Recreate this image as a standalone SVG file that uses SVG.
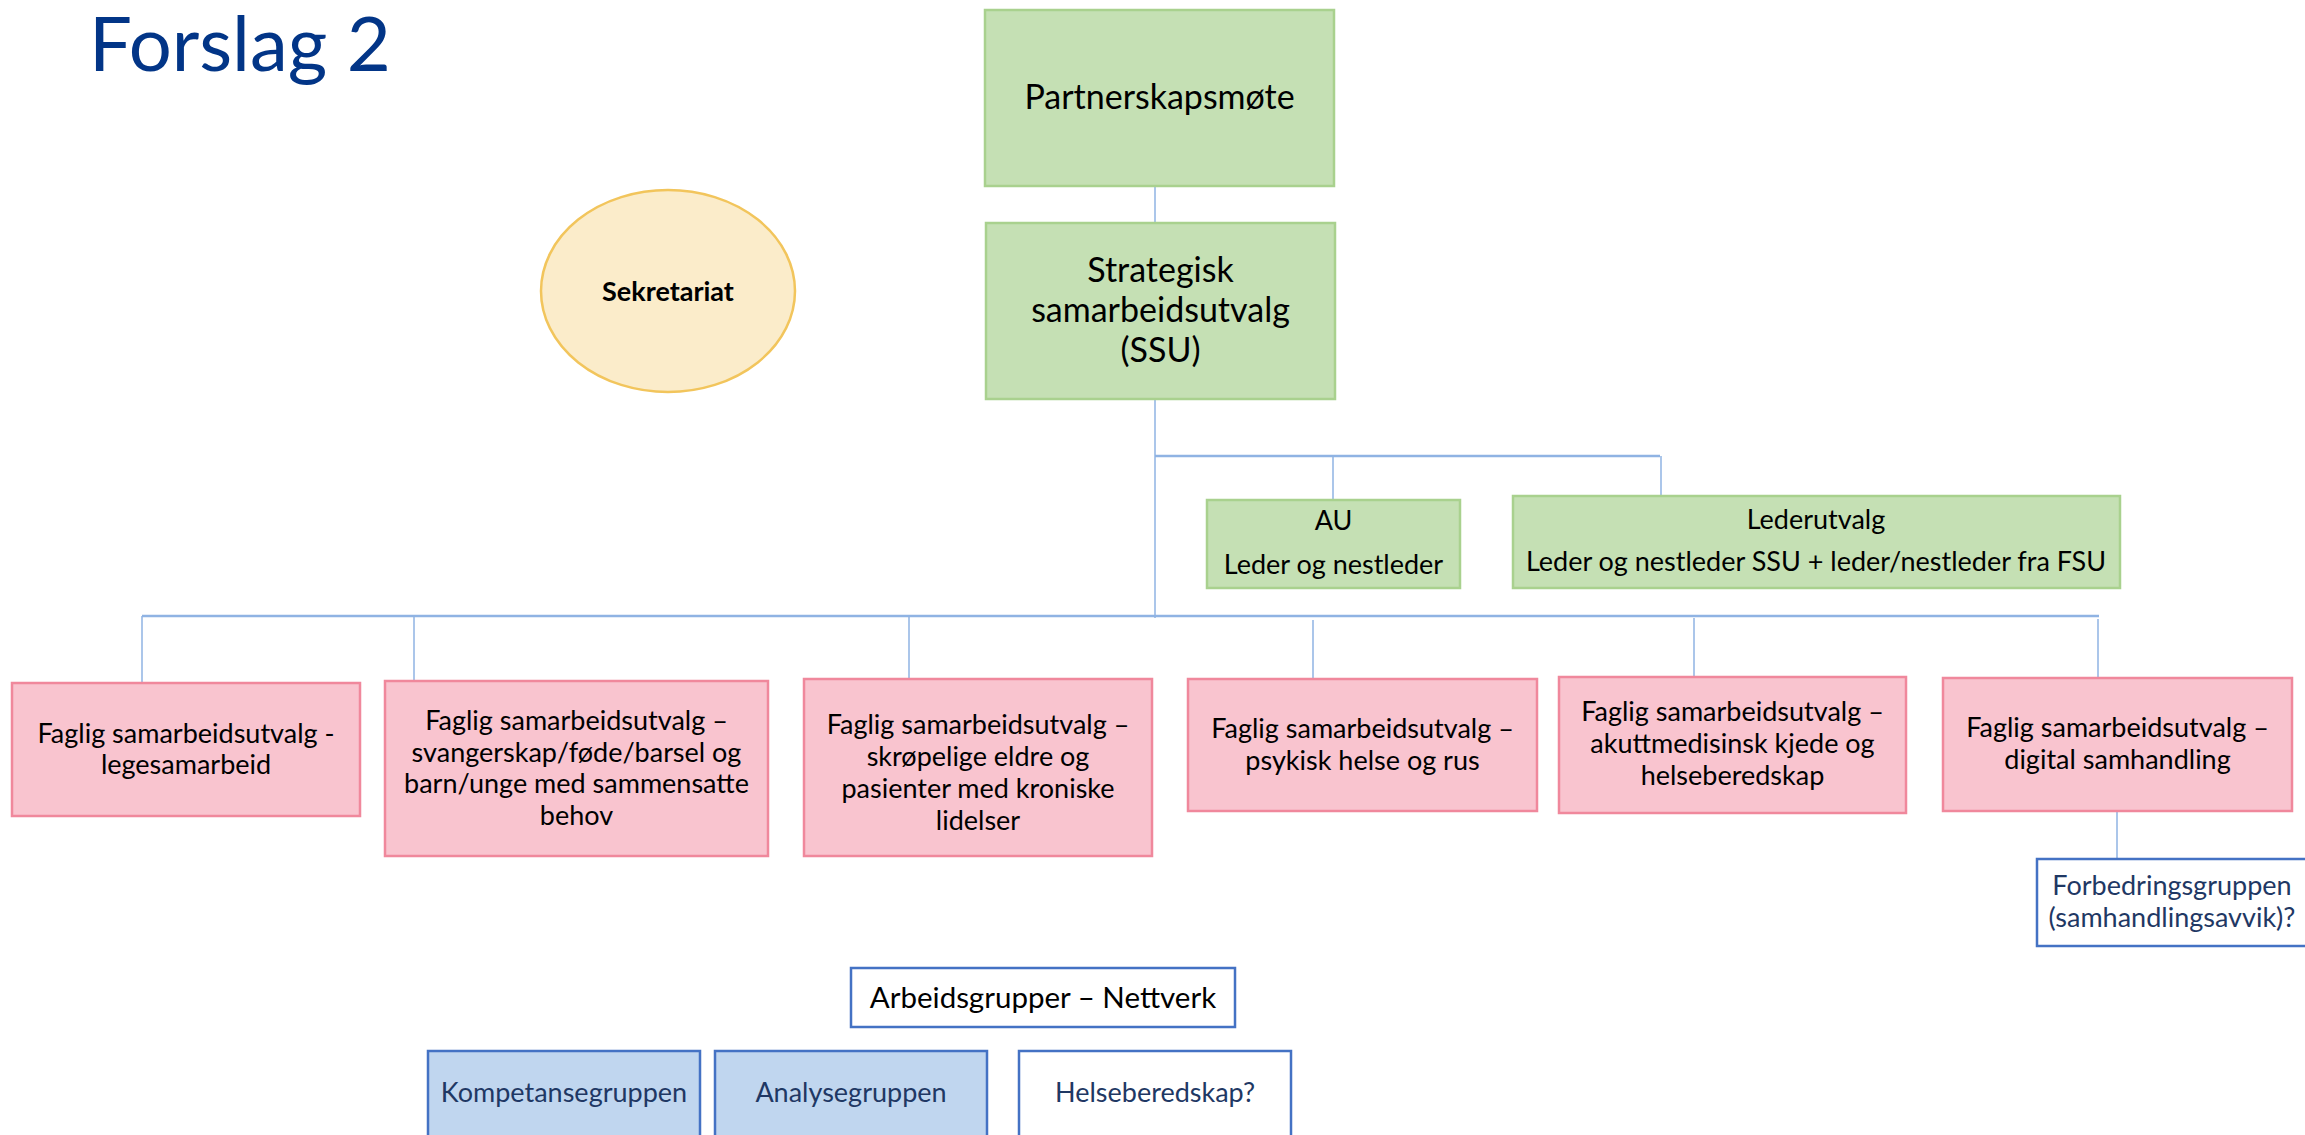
<svg xmlns="http://www.w3.org/2000/svg" width="2305" height="1135" viewBox="0 0 2305 1135">
<style>
text{font-family:Lato,"Liberation Sans",sans-serif;text-anchor:middle;fill:#000}
.t{font-size:27px}
.big{font-size:34px}
.navy{fill:#1F3864}
.green{fill:#C5E0B4;stroke:#A9D18E;stroke-width:2.5}
.pink{fill:#F9C4CF;stroke:#F0889C;stroke-width:2.5}
.blue{fill:#C0D6EF;stroke:#4472C4;stroke-width:2.5}
.white{fill:#FFFFFF;stroke:#4472C4;stroke-width:2.5}
.conn line{stroke:#8FB3E3;stroke-width:1.5}
.conn line.bar{stroke-width:2.5}
</style>
<rect width="2305" height="1135" fill="#FFFFFF"/>
<text x="89" y="71" style="font-size:76px;text-anchor:start;fill:#023587">Forslag 2</text>
<g id="connectors" class="conn">
<line x1="1155" y1="186" x2="1155" y2="223"/>
<line x1="1155" y1="399" x2="1155" y2="618"/>
<line class="bar" x1="1155" y1="456" x2="1660" y2="456"/>
<line x1="1333" y1="456" x2="1333" y2="500"/>
<line x1="1661" y1="456" x2="1661" y2="496"/>
<line class="bar" x1="142" y1="616" x2="2099" y2="616"/>
<line x1="142" y1="616" x2="142" y2="683"/>
<line x1="414" y1="616" x2="414" y2="681"/>
<line x1="909" y1="616" x2="909" y2="679"/>
<line x1="1313" y1="620" x2="1313" y2="679"/>
<line x1="1694" y1="618" x2="1694" y2="677"/>
<line x1="2098" y1="619" x2="2098" y2="678"/>
<line x1="2117" y1="811" x2="2117" y2="859"/>
</g>
<g id="partnerskapsmote">
<rect class="green" x="985" y="10" width="349" height="176"/>
<text class="big" x="1159.5" y="109">Partnerskapsmøte</text>
</g>
<g id="ssu">
<rect class="green" x="986" y="223" width="349" height="176"/>
<text class="big" x="1160.5" y="282">Strategisk</text>
<text class="big" x="1160.5" y="322">samarbeidsutvalg</text>
<text class="big" x="1160.5" y="362">(SSU)</text>
</g>
<g id="sekretariat">
<ellipse cx="668" cy="291" rx="127" ry="101" fill="#FBECCA" stroke="#F2C55C" stroke-width="2.5"/>
<text x="668" y="301" style="font-size:27px;font-weight:bold">Sekretariat</text>
</g>
<g id="au">
<rect class="green" x="1207" y="500" width="253" height="88"/>
<text class="t" x="1333.5" y="530">AU</text>
<text class="t" x="1333.5" y="574">Leder og nestleder</text>
</g>
<g id="lederutvalg">
<rect class="green" x="1513" y="496" width="607" height="92"/>
<text class="t" x="1816" y="529">Lederutvalg</text>
<text class="t" x="1816" y="571">Leder og nestleder SSU + leder/nestleder fra FSU</text>
</g>
<g id="fsu-lege">
<rect class="pink" x="12" y="683" width="348" height="133"/>
<text class="t" x="186" y="743">Faglig samarbeidsutvalg -</text>
<text class="t" x="186" y="774">legesamarbeid</text>
</g>
<g id="fsu-svangerskap">
<rect class="pink" x="385" y="681" width="383" height="175"/>
<text class="t" x="576.5" y="730">Faglig samarbeidsutvalg –</text>
<text class="t" x="576.5" y="762">svangerskap/føde/barsel og</text>
<text class="t" x="576.5" y="793">barn/unge med sammensatte</text>
<text class="t" x="576.5" y="825">behov</text>
</g>
<g id="fsu-eldre">
<rect class="pink" x="804" y="679" width="348" height="177"/>
<text class="t" x="978" y="734">Faglig samarbeidsutvalg –</text>
<text class="t" x="978" y="766">skrøpelige eldre og</text>
<text class="t" x="978" y="798">pasienter med kroniske</text>
<text class="t" x="978" y="830">lidelser</text>
</g>
<g id="fsu-psykisk">
<rect class="pink" x="1188" y="679" width="349" height="132"/>
<text class="t" x="1362.5" y="738">Faglig samarbeidsutvalg –</text>
<text class="t" x="1362.5" y="770">psykisk helse og rus</text>
</g>
<g id="fsu-akutt">
<rect class="pink" x="1559" y="677" width="347" height="136"/>
<text class="t" x="1732.5" y="721">Faglig samarbeidsutvalg –</text>
<text class="t" x="1732.5" y="753">akuttmedisinsk kjede og</text>
<text class="t" x="1732.5" y="785">helseberedskap</text>
</g>
<g id="fsu-digital">
<rect class="pink" x="1943" y="678" width="349" height="133"/>
<text class="t" x="2117.5" y="737">Faglig samarbeidsutvalg –</text>
<text class="t" x="2117.5" y="769">digital samhandling</text>
</g>
<g id="forbedringsgruppen">
<rect class="white" x="2037" y="859" width="275" height="87"/>
<text class="t navy" x="2172" y="895">Forbedringsgruppen</text>
<text class="t navy" x="2172" y="927">(samhandlingsavvik)?</text>
</g>
<g id="arbeidsgrupper">
<rect class="white" x="851" y="968" width="384" height="59"/>
<text x="1043" y="1008" style="font-size:29.5px">Arbeidsgrupper – Nettverk</text>
</g>
<g id="kompetansegruppen">
<rect class="blue" x="428" y="1051" width="272" height="100"/>
<text class="t navy" x="564" y="1102">Kompetansegruppen</text>
</g>
<g id="analysegruppen">
<rect class="blue" x="715" y="1051" width="272" height="100"/>
<text class="t navy" x="851" y="1102">Analysegruppen</text>
</g>
<g id="helseberedskap">
<rect class="white" x="1019" y="1051" width="272" height="100"/>
<text class="t navy" x="1155" y="1102">Helseberedskap?</text>
</g>
</svg>
